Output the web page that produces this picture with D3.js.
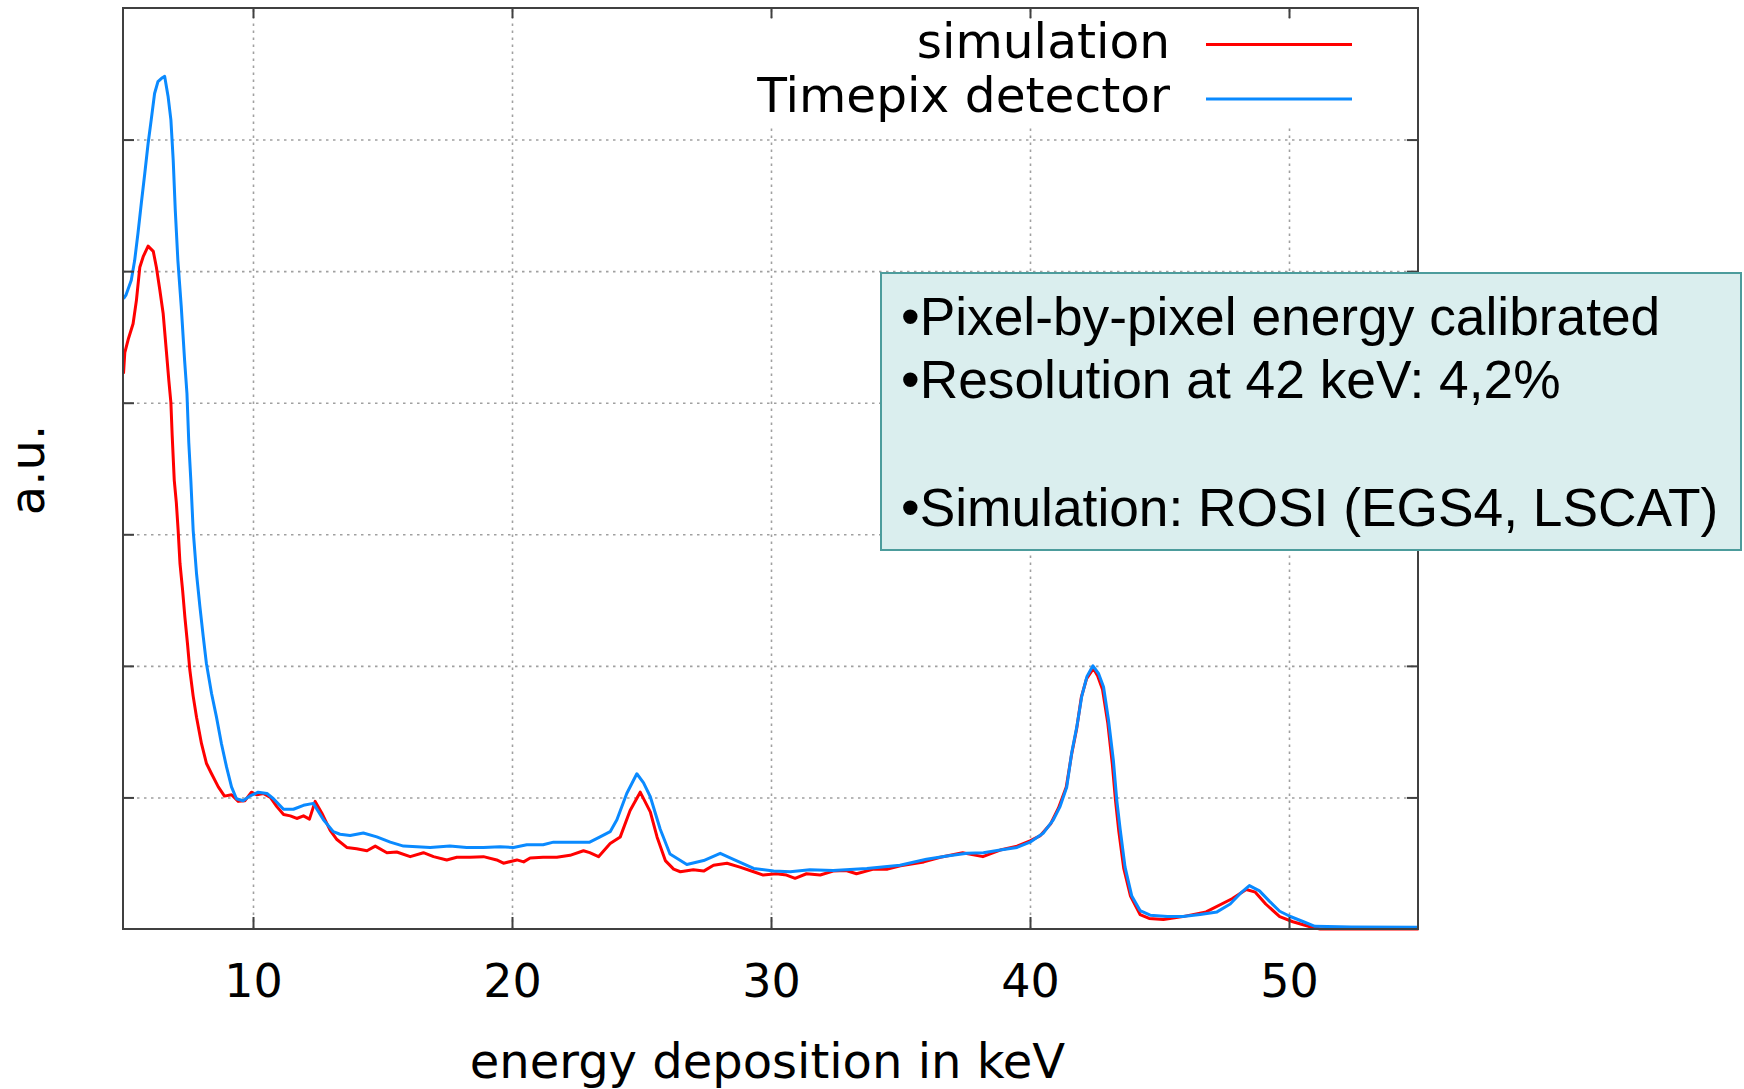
<!DOCTYPE html>
<html>
<head>
<meta charset="utf-8">
<script src="https://cdn.jsdelivr.net/npm/d3@7"></script>
<style>
  html, body { margin: 0; padding: 0; background: #ffffff; }
  svg { display: block; }
</style>
</head>
<body>
<script>
// ---------------- data ----------------
const xTicks = [10, 20, 30, 40, 50];
const yTicks = [1, 2, 3, 4, 5, 6];

const seriesNames = ["simulation", "Timepix detector"];

// simulation (red)
const simEnergy = [5.0, 5.05, 5.18, 5.37, 5.5, 5.63, 5.76, 5.95, 6.15, 6.27, 6.4, 6.53, 6.66, 6.75, 6.83, 6.88,
  6.96, 7.04, 7.11, 7.18, 7.28, 7.37, 7.47, 7.56, 7.69, 7.82, 8.01, 8.2, 8.4, 8.66, 8.9, 9.17, 9.43, 9.69, 9.94,
  10.15, 10.4, 10.67, 10.92, 11.18, 11.44, 11.69, 11.95, 12.18, 12.4, 12.66, 12.98, 13.24, 13.62, 14.0, 14.4,
  14.72, 15.17, 15.55, 16.07, 16.58, 16.97, 17.48, 17.87, 18.38, 18.9, 19.41, 19.67, 20.19, 20.45, 20.7, 21.2,
  21.73, 22.24, 22.76, 23.0, 23.34, 23.79, 24.18, 24.56, 24.95, 25.34, 25.6, 25.92, 26.24, 26.5, 27.0, 27.4,
  27.78, 28.3, 28.8, 29.33, 29.7, 30.2, 30.6, 30.93, 31.37, 31.9, 32.4, 32.9, 33.3, 33.96, 34.5, 35.0, 35.9,
  36.54, 37.4, 38.18, 38.85, 39.5, 40.0, 40.4, 40.8, 41.1, 41.4, 41.6, 41.8, 41.98, 42.18, 42.45, 42.62, 42.8,
  43.0, 43.18, 43.3, 43.43, 43.62, 43.88, 44.25, 44.6, 45.15, 45.9, 46.8, 47.8, 48.35, 48.7, 49.1, 49.64, 50.15,
  50.88, 51.2, 53.0, 55.0];
const simCounts = [4.22, 4.38, 4.48, 4.60, 4.78, 5.03, 5.11, 5.19, 5.15, 5.03, 4.86, 4.68, 4.38, 4.17, 4.0, 3.75,
  3.41, 3.24, 3.03, 2.78, 2.58, 2.37, 2.17, 1.97, 1.77, 1.61, 1.41, 1.26, 1.18, 1.08, 1.01, 1.02, 0.97, 0.975, 1.04,
  1.02, 1.03, 1.0, 0.93, 0.87, 0.86, 0.84, 0.86, 0.835, 0.97, 0.88, 0.75, 0.68, 0.62, 0.61, 0.595,
  0.63, 0.58, 0.585, 0.55, 0.58, 0.55, 0.525, 0.545, 0.545, 0.55, 0.525, 0.50, 0.525, 0.51, 0.54, 0.545,
  0.545, 0.56, 0.595, 0.58, 0.55, 0.65, 0.70, 0.90, 1.04, 0.89, 0.70, 0.52, 0.455, 0.435, 0.45, 0.44,
  0.485, 0.50, 0.47, 0.435, 0.41, 0.42, 0.41, 0.385, 0.42, 0.41, 0.44, 0.445, 0.42, 0.455, 0.455, 0.48, 0.51,
  0.545, 0.58, 0.55, 0.60, 0.63, 0.67, 0.71, 0.80, 0.92, 1.08, 1.32, 1.52, 1.76, 1.90, 1.98, 1.92, 1.82,
  1.57, 1.25, 0.98, 0.74, 0.46, 0.25, 0.11, 0.08, 0.073, 0.094, 0.13, 0.23, 0.30, 0.28, 0.19, 0.094, 0.055,
  0.013, 0.0, 0.0, 0.0];

// Timepix detector (blue)
const detEnergy = [5.0, 5.1, 5.3, 5.43, 5.56, 5.69, 5.82, 5.95, 6.07, 6.2, 6.33, 6.5, 6.59, 6.72, 6.83, 6.92, 7.0,
  7.1, 7.23, 7.36, 7.45, 7.52, 7.6, 7.69, 7.82, 7.95, 8.08, 8.2, 8.4, 8.59, 8.78, 8.98, 9.17, 9.36, 9.62, 9.87,
  10.2, 10.54, 10.79, 11.18, 11.56, 11.95, 12.33, 12.72, 13.1, 13.36, 13.75, 14.26, 14.78, 15.3, 15.81, 16.33,
  16.84, 17.6, 18.25, 18.9, 19.54, 20.06, 20.57, 21.2, 21.6, 22.1, 23.0, 23.4, 23.79, 24.05, 24.43, 24.82, 25.08,
  25.34, 25.72, 26.1, 26.75, 27.4, 28.04, 28.55, 29.33, 30.1, 30.74, 31.5, 32.4, 33.7, 34.98, 36.0, 36.8, 37.57,
  38.2, 38.85, 39.5, 40.0, 40.52, 40.9, 41.16, 41.42, 41.61, 41.81, 42.0, 42.2, 42.43, 42.65, 42.84, 43.03, 43.22,
  43.35, 43.48, 43.67, 43.93, 44.25, 44.64, 45.3, 45.9, 46.57, 47.22, 47.73, 48.12, 48.47, 48.86, 49.25, 49.64,
  50.05, 50.56, 51.0, 52.4, 55.0];
const detCounts = [4.79, 4.82, 4.93, 5.08, 5.29, 5.52, 5.74, 5.97, 6.15, 6.35, 6.44, 6.47, 6.48, 6.33, 6.15, 5.84, 5.46,
  5.08, 4.73, 4.32, 4.07, 3.7, 3.41, 3.03, 2.70, 2.45, 2.22, 2.02, 1.79, 1.61, 1.41, 1.23, 1.08, 0.99, 0.975, 1.01,
  1.04, 1.03, 0.99, 0.91, 0.91, 0.94, 0.955, 0.83, 0.74, 0.72, 0.71, 0.73, 0.70, 0.66, 0.63, 0.625,
  0.62, 0.63, 0.62, 0.62, 0.625, 0.62, 0.64, 0.64, 0.66, 0.66, 0.66, 0.70, 0.74, 0.83, 1.03, 1.18, 1.11,
  1.005, 0.76, 0.57, 0.49, 0.52, 0.575, 0.53, 0.46, 0.44, 0.435, 0.45, 0.445, 0.46, 0.485, 0.53, 0.555, 0.575,
  0.58, 0.60, 0.62, 0.66, 0.73, 0.83, 0.93, 1.08, 1.34, 1.54, 1.77, 1.92, 2.0, 1.94, 1.84, 1.59, 1.28,
  0.98, 0.76, 0.47, 0.25, 0.14, 0.105, 0.095, 0.095, 0.11, 0.13, 0.19, 0.27, 0.33, 0.29, 0.21, 0.135,
  0.095, 0.055, 0.02, 0.015, 0.013];

const noteLines = ["\u2022Pixel-by-pixel energy calibrated", "\u2022Resolution at 42 keV: 4,2%", "", "\u2022Simulation: ROSI (EGS4, LSCAT)"];

// ---------------- layout ----------------
const W = 1744, H = 1089;
const plot = { left: 123, right: 1418, top: 8, bottom: 929 };
const colors = { sim: "#ff0000", det: "#0a8aff" };

const svg = d3.select("body").append("svg").attr("width", W).attr("height", H);
svg.append("rect").attr("width", W).attr("height", H).attr("fill", "#ffffff");

const x = d3.scaleLinear().domain([5, 55]).range([plot.left + 0.5, plot.right + 0.5]);
const y = d3.scaleLinear().domain([0, 7]).range([plot.bottom, plot.top]);
const pw = plot.right - plot.left, ph = plot.bottom - plot.top;

// grid
const grid = svg.append("g").attr("class", "grid");
grid.append("g").attr("transform", `translate(0,${plot.bottom})`)
  .call(d3.axisBottom(x).tickValues(xTicks).tickSize(-ph).tickFormat(""))
  .call(g => g.select(".domain").remove());
grid.append("g").attr("transform", `translate(${plot.left},0)`)
  .call(d3.axisLeft(y).tickValues(yTicks).tickSize(-pw).tickFormat(""))
  .call(g => g.select(".domain").remove());
grid.selectAll("line").attr("stroke", "#a0a0a0").attr("stroke-width", 1.6).attr("stroke-dasharray", "2.5,4.5");

// opaque legend background
svg.append("rect").attr("x", 745).attr("y", 20).attr("width", 665).attr("height", 104).attr("fill", "#ffffff");

// data lines
const lineGen = d3.line().x(d => x(d[0])).y(d => y(d[1]));
const simData = simEnergy.map((e, i) => [e, simCounts[i]]);
const detData = detEnergy.map((e, i) => [e, detCounts[i]]);
svg.append("path").datum(simData).attr("d", lineGen).attr("fill", "none")
  .attr("stroke", colors.sim).attr("stroke-width", 3).attr("stroke-linejoin", "round");
svg.append("path").datum(detData).attr("d", lineGen).attr("fill", "none")
  .attr("stroke", colors.det).attr("stroke-width", 3).attr("stroke-linejoin", "round");

// axes / ticks
const axisColor = "#404040";
const tickStyle = g => {
  g.select(".domain").remove();
  g.selectAll(".tick line").attr("stroke", axisColor).attr("stroke-width", 2);
};
svg.append("g").attr("transform", `translate(0,${plot.bottom})`)
  .call(d3.axisBottom(x).tickValues(xTicks).tickSize(-12).tickPadding(35).tickFormat(d3.format("d")))
  .call(tickStyle)
  .call(g => g.selectAll("text").attr("font-family", "DejaVu Sans").attr("font-size", 46).attr("fill", "#000"));
svg.append("g").attr("transform", `translate(0,${plot.top})`)
  .call(d3.axisTop(x).tickValues(xTicks).tickSize(-10).tickFormat(""))
  .call(tickStyle);
svg.append("g").attr("transform", `translate(${plot.left},0)`)
  .call(d3.axisLeft(y).tickValues(yTicks).tickSize(-11).tickFormat(""))
  .call(tickStyle);
svg.append("g").attr("transform", `translate(${plot.right},0)`)
  .call(d3.axisRight(y).tickValues(yTicks).tickSize(-11).tickFormat(""))
  .call(tickStyle);

svg.append("rect").attr("x", plot.left).attr("y", plot.top).attr("width", pw).attr("height", ph)
  .attr("fill", "none").attr("stroke", axisColor).attr("stroke-width", 2);

// axis labels
svg.append("text").attr("x", 690 * 1744 / 1568).attr("y", 1078).attr("text-anchor", "middle")
  .attr("font-family", "DejaVu Sans").attr("font-size", 48).attr("fill", "#000")
  .text("energy deposition in keV");
svg.append("text").attr("transform", "translate(44,470) rotate(-90)").attr("text-anchor", "middle")
  .attr("font-family", "DejaVu Sans").attr("font-size", 48).attr("fill", "#000")
  .text("a.u.");

// legend
const legend = svg.append("g");
[[seriesNames[0], colors.sim, 58, 44.5], [seriesNames[1], colors.det, 112, 99]].forEach(([name, c, by, ly]) => {
  legend.append("text").attr("x", 1170).attr("y", by).attr("text-anchor", "end")
    .attr("font-family", "DejaVu Sans").attr("font-size", 48.6).attr("fill", "#000").text(name);
  legend.append("line").attr("x1", 1206).attr("x2", 1352).attr("y1", ly).attr("y2", ly)
    .attr("stroke", c).attr("stroke-width", 3);
});

// annotation box
const note = svg.append("g");
note.append("rect").attr("x", 881).attr("y", 273).attr("width", 860).attr("height", 277)
  .attr("fill", "#daeeee").attr("stroke", "#4c9c9c").attr("stroke-width", 2);
const baselines = [335, 398, 461, 526];
noteLines.forEach((t, i) => {
  if (!t) return;
  note.append("text").attr("x", 901).attr("y", baselines[i])
    .attr("font-family", "Liberation Sans, Arial, sans-serif").attr("font-size", 53.3).attr("fill", "#000")
    .text(t);
});
</script>
</body>
</html>
